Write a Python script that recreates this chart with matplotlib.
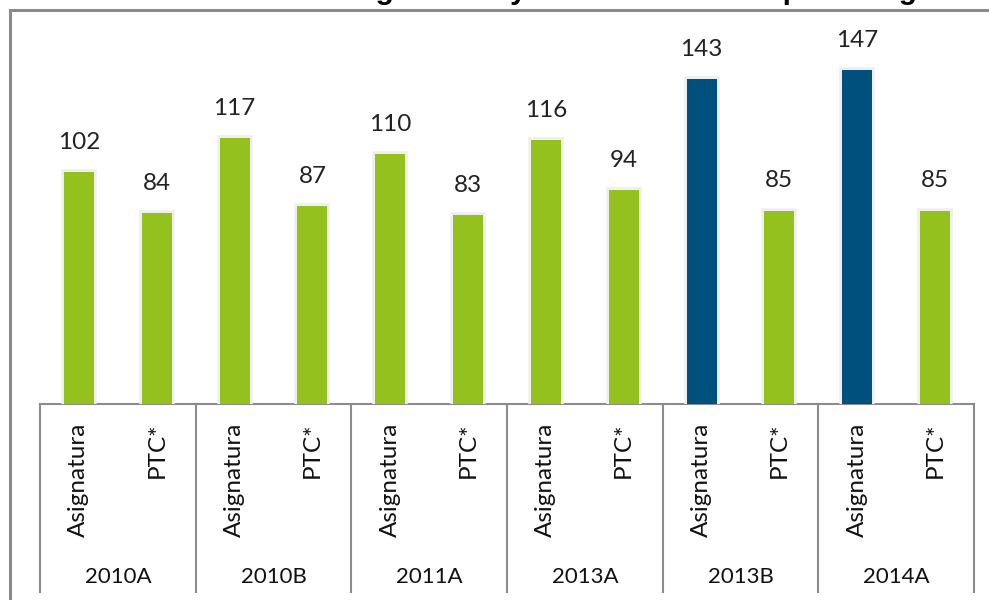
import matplotlib.pyplot as plt
import matplotlib.patheffects as pe
import matplotlib.transforms as mtransforms
from matplotlib.patches import Rectangle

# datos
periodos = ["2010A", "2010B", "2011A", "2013A", "2013B", "2014A"]
categorias = ["Asignatura", "PTC*"]
asignatura = [102, 117, 110, 116, 143, 147]
ptc = [84, 87, 83, 94, 85, 85]
destacados = ["2013B", "2014A"]
titulo = "Gráfica 11. Número de asignaturas y PTC distribuidos por categoría"

verde = "#95C11F"
azul = "#00507D"
gris = "#8C8C8C"

plt.rcParams["font.family"] = ["Lato", "DejaVu Sans"]

W, H = 989, 600
fig = plt.figure(figsize=(W / 100, H / 100), dpi=100)
ax = fig.add_axes([40 / W, 1 - 404 / H, (974 - 40) / W, (404 - 20) / H])
alto_px = 404 - 20

valores = []
colores = []
etiquetas = []
for p, a, t in zip(periodos, asignatura, ptc):
    valores += [a, t]
    colores += [azul if p in destacados else verde, verde]
    etiquetas += categorias

xs = [i + 0.5 for i in range(len(valores))]
barras = ax.bar(xs, valores, width=0.385, color=colores, linewidth=0, zorder=3)
for b in barras:
    b.set_path_effects([pe.withStroke(linewidth=4, foreground="#EFEFEF"), pe.Normal()])

for x, v in zip(xs, valores):
    ax.annotate(str(v), (x, v), xytext=(0, 14), textcoords="offset points",
                ha="center", va="bottom", fontsize=17.5, color="#222222")

ax.set_xlim(0, len(valores))
ax.set_ylim(0, alto_px / 2.272)
for s in ["top", "right", "left"]:
    ax.spines[s].set_visible(False)
ax.spines["bottom"].set_color(gris)
ax.spines["bottom"].set_linewidth(1.5)
ax.set_xticks([])
ax.set_yticks([])
ax.patch.set_alpha(0)

trans = mtransforms.blended_transform_factory(ax.transData, ax.transAxes)
fondo = -(592 - 404) / alto_px
for g in range(0, len(valores) + 1, 2):
    ax.plot([g, g], [0, fondo], transform=trans, color=gris, lw=1.5, clip_on=False)

for x, lab in zip(xs, etiquetas):
    ax.text(x, -19 / alto_px, lab, transform=trans, rotation=90, ha="center", va="top",
            fontsize=17.5, color="#111111")

for i, p in enumerate(periodos):
    ax.text(2 * i + 1, -(577 - 404) / alto_px, p, transform=trans, ha="center", va="center",
            fontsize=16, color="#111111")

# marco y titulo recortado (en la imagen original solo se ve el borde inferior)
fig.patches.append(Rectangle((10 / W, -0.1), 1.1, 1 - 10 / H + 0.1, transform=fig.transFigure,
                             fill=False, edgecolor="#8A8A8A", lw=2.2))
fig.text(10 / W, 1 + 1 / H, titulo, ha="left", va="baseline", fontsize=21.5,
         fontweight="bold", family="Liberation Sans", color="black")

fig.savefig("out.png", dpi=100, facecolor="white")
